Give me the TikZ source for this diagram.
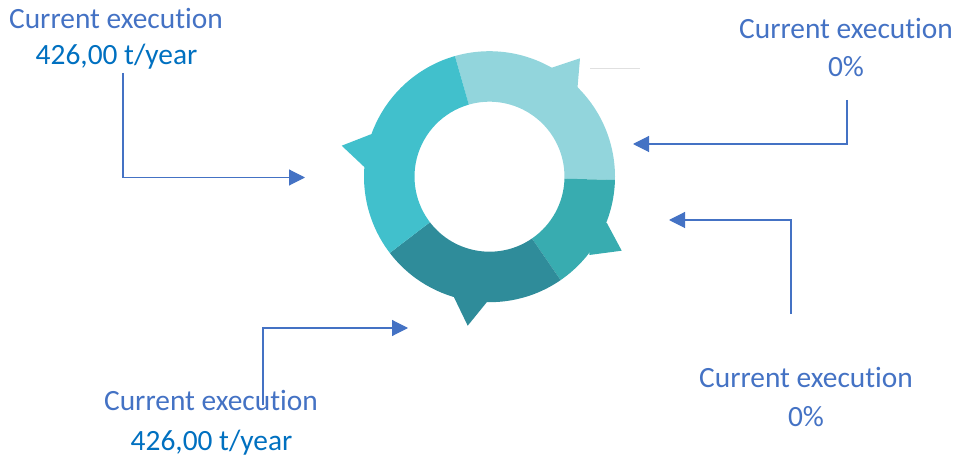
\documentclass[tikz,border=0pt]{standalone}
\usepackage{fontspec}
\setmainfont[Ligatures=NoCommon]{Carlito}
\usetikzlibrary{arrows.meta}
\definecolor{headc}{HTML}{4472C4}
\definecolor{valc}{HTML}{0070C0}
\definecolor{segA}{HTML}{92D5DC}
\definecolor{segB}{HTML}{38ACB0}
\definecolor{segC}{HTML}{2F8C9A}
\definecolor{segD}{HTML}{41C0CC}
\tikzset{
  headtext/.style={anchor=base,inner sep=0pt,text=headc,font=\fontsize{29.4}{33}\selectfont},
  valtext/.style={anchor=base,inner sep=0pt,text=valc,font=\fontsize{29.4}{33}\selectfont},
  link/.style={draw=headc,line width=1.1pt,-{Triangle[length=16pt,width=16pt,fill=headc]}}
}
\begin{document}
\begin{tikzpicture}[x=1pt,y=1pt]
\useasboundingbox (0,0) rectangle (969,461);
% ring centre is (489.5,284.3)
\fill[segA] (489.5,284.3) ++(106:125.5pt) arc[start angle=106,end angle=-1.5,radius=125.5pt] -- ++(178.5:50.5pt) arc[start angle=-1.5,end angle=106,radius=75pt] -- cycle;
\fill[segA] (550,392.7) -- (580,402.7) -- (577.3,371) -- (560,375) -- cycle;
\fill[segB] (489.5,284.3) ++(-1.5:125.5pt) arc[start angle=-1.5,end angle=-55.5,radius=125.5pt] -- ++(124.5:50.5pt) arc[start angle=-55.5,end angle=-1.5,radius=75pt] -- cycle;
\fill[segB] (606.7,238.3) -- (621.7,210.3) -- (589.3,206) -- (590,225) -- cycle;
\fill[segC] (489.5,284.3) ++(-55.5:125.5pt) arc[start angle=-55.5,end angle=-142.6,radius=125.5pt] -- ++(37.4:50.5pt) arc[start angle=-142.6,end angle=-55.5,radius=75pt] -- cycle;
\fill[segC] (486.7,158.7) -- (467.7,135.3) -- (454,163.7) -- (470,170) -- cycle;
\fill[segD] (489.5,284.3) ++(217.4:125.5pt) arc[start angle=217.4,end angle=106,radius=125.5pt] -- ++(-74:50.5pt) arc[start angle=106,end angle=217.4,radius=75pt] -- cycle;
\fill[segD] (375,328.3) -- (341.7,315.3) -- (365.7,292.7) -- (385,305) -- cycle;
\draw[black!12,line width=0.6pt] (590,393) -- (640,393);

\node[headtext] (tlh) at (116,432) {Current execution};
\node[valtext] (tlv) at (116.5,396) {426,00 t/year};
\node[headtext] (trh) at (846,422) {Current execution};
\node[headtext] (trv) at (846,384) {0\%};
\node[headtext] (brh) at (806,74) {Current execution};
\node[headtext] (brv) at (806,35) {0\%};
\node[headtext] (blh) at (211,51) {Current execution};
\node[valtext] (blv) at (211.5,11) {426,00 t/year};

\coordinate (tlstart) at (123,388);
\coordinate (tlend) at (305,283.5);
\coordinate (trstart) at (847,361);
\coordinate (trend) at (633,317);
\coordinate (brstart) at (791,147);
\coordinate (brend) at (669,241);
\coordinate (blstart) at (263,56);
\coordinate (blend) at (408,133);
\draw[link] (tlstart) |- (tlend);
\draw[link] (trstart) |- (trend);
\draw[link] (brstart) |- (brend);
\draw[link] (blstart) |- (blend);
\end{tikzpicture}
\end{document}
